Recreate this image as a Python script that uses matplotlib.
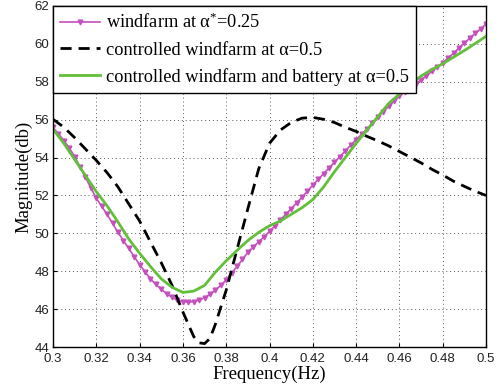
import matplotlib
matplotlib.use("Agg")
import matplotlib.pyplot as plt
import numpy as np

plt.rcParams["mathtext.fontset"] = "custom"
plt.rcParams["mathtext.rm"] = "Liberation Serif"
plt.rcParams["mathtext.it"] = "Liberation Serif"

# windfarm at alpha*=0.25 (dense sweep, one marker per sample)
freq_wf = np.arange(81) * 0.0025 + 0.3
mag_wf = [
    55.60, 55.25, 54.90, 54.50, 54.05, 53.50, 52.95, 52.40, 51.85, 51.42,
    51.00, 50.52, 50.05, 49.62, 49.20, 48.77, 48.35, 47.97, 47.60, 47.30,
    47.05, 46.82, 46.62, 46.48, 46.40, 46.37, 46.40, 46.48, 46.60, 46.78,
    47.00, 47.25, 47.55, 47.90, 48.25, 48.62, 49.00, 49.28, 49.55, 49.82,
    50.10, 50.40, 50.70, 51.00, 51.30, 51.60, 51.90, 52.22, 52.55, 52.85,
    53.15, 53.45, 53.75, 54.05, 54.35, 54.65, 54.95, 55.22, 55.50, 55.82,
    56.15, 56.42, 56.70, 56.98, 57.25, 57.48, 57.70, 57.90, 58.10, 58.32,
    58.55, 58.78, 59.00, 59.25, 59.50, 59.78, 60.05, 60.30, 60.55, 60.80,
    61.05,
]

# controlled windfarm at alpha=0.5
freq_ctl = [0.300, 0.305, 0.310, 0.315, 0.320, 0.325, 0.330, 0.335, 0.340,
            0.345, 0.350, 0.355, 0.360, 0.365, 0.3675, 0.370, 0.3725, 0.375,
            0.380, 0.385, 0.390, 0.395, 0.400, 0.405, 0.410, 0.415, 0.420,
            0.425, 0.430, 0.435, 0.440, 0.445, 0.450, 0.455, 0.460, 0.465,
            0.470, 0.475, 0.480, 0.485, 0.490, 0.495, 0.500]
mag_ctl = [56.02, 55.60, 55.05, 54.45, 53.85, 53.20, 52.45, 51.55, 50.65,
           49.55, 48.45, 47.25, 45.85, 44.55, 44.22, 44.18, 44.45, 45.20,
           47.00, 49.15, 51.30, 53.40, 54.75, 55.45, 55.85, 56.08, 56.12,
           56.02, 55.85, 55.60, 55.38, 55.12, 54.88, 54.62, 54.32, 54.02,
           53.72, 53.38, 53.08, 52.75, 52.48, 52.22, 52.00]

# controlled windfarm and battery at alpha=0.5
freq_bat = np.arange(41) * 0.005 + 0.3
mag_bat = [55.50, 54.75, 53.90, 53.05, 52.20, 51.45, 50.60, 49.70, 48.95,
           48.25, 47.60, 47.15, 46.88, 46.95, 47.25, 47.95, 48.55, 49.10,
           49.62, 50.05, 50.40, 50.65, 51.00, 51.35, 51.78, 52.45, 53.25,
           54.00, 54.75, 55.45, 56.15, 56.85, 57.35, 57.85, 58.30, 58.65,
           58.95, 59.30, 59.65, 60.02, 60.40]

x_ticks = [0.3, 0.32, 0.34, 0.36, 0.38, 0.4, 0.42, 0.44, 0.46, 0.48, 0.5]
y_ticks = [44, 46, 48, 50, 52, 54, 56, 58, 60, 62]

fig = plt.figure(figsize=(4.99, 3.91), dpi=100)
ax = fig.add_axes([53 / 499, 44 / 391, 433 / 499, 341 / 391])

ax.plot(freq_wf, mag_wf, color="#c44fbd", lw=1.2, marker="v", ms=3.4,
        mec="#c44fbd", mfc="#c44fbd",
        label=r"windfarm at α$^{*}$=0.25")
ax.plot(freq_ctl, mag_ctl, color="black", lw=2.0, ls=(0, (4, 2.5)),
        label="controlled windfarm at α=0.5")
ax.plot(freq_bat, mag_bat, color="#62bf3a", lw=2.0,
        label="controlled windfarm and battery at α=0.5")

ax.set_xlim(0.3, 0.5)
ax.set_ylim(44, 62)
ax.set_xticks(x_ticks)
ax.set_xticklabels([f"{t:g}" for t in x_ticks])
ax.set_yticks(y_ticks)
ax.tick_params(direction="in", length=3, labelsize=9.5, width=0.8,
               labelcolor="#222222")
ax.tick_params(axis="x", pad=4)
ax.tick_params(axis="y", pad=2.5)
for lbl in ax.get_xticklabels() + ax.get_yticklabels():
    lbl.set_family("Liberation Sans")
ax.grid(True, ls=(0, (1, 3)), lw=0.7, color="0.35")
for sp in ax.spines.values():
    sp.set_linewidth(1.0)

ax.set_xlabel("Frequency(Hz)", family="Liberation Serif", fontsize=13.5,
              labelpad=1)
ax.set_ylabel("Magnitude(db)", family="Liberation Serif", fontsize=13.5,
              labelpad=2)

leg = ax.legend(loc="upper left", borderaxespad=0, fancybox=False,
                framealpha=1, edgecolor="black", handlelength=2.2,
                handletextpad=0.3, labelspacing=0.5, borderpad=0.38,
                prop={"family": "Liberation Serif", "size": 13.2})
leg.get_frame().set_linewidth(1.0)

fig.savefig("out.png", dpi=100)
